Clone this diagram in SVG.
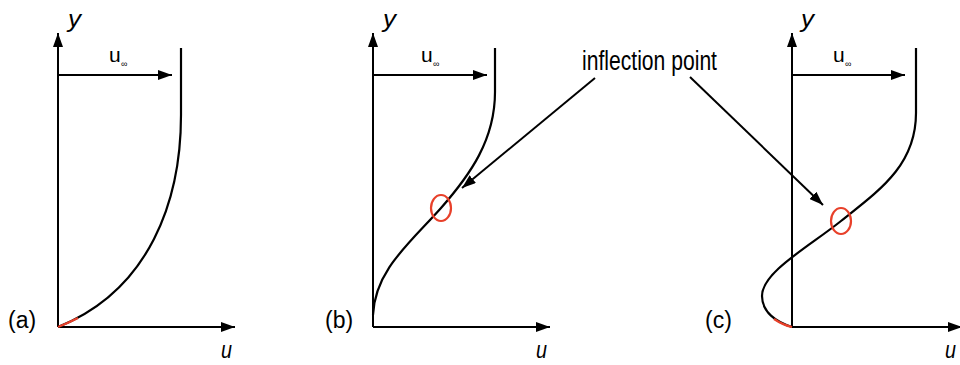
<svg xmlns="http://www.w3.org/2000/svg" width="960" height="365" viewBox="0 0 960 365">
<defs>
<marker id="ah" viewBox="0 0 14 10" refX="14" refY="5" markerWidth="14" markerHeight="10" markerUnits="userSpaceOnUse" orient="auto">
<path d="M0,0 L14,5 L0,10 Z" fill="#000"/>
</marker>
<style>
.ax{stroke:#000;stroke-width:2;fill:none}
.ar{stroke:#000;stroke-width:2;fill:none;marker-end:url(#ah)}
.cv{stroke:#000;stroke-width:2.2;fill:none}
.rd{stroke:#e8402a;stroke-width:2.2;fill:none}
.lb{font-family:"Liberation Sans",Arial,sans-serif;fill:#000}
.it{font-family:"Liberation Sans",Arial,sans-serif;font-style:italic;font-size:24px;fill:#000}
</style>
</defs>
<g id="panel-a">
<path class="ar" d="M58,327 L58,33"/>
<path class="ar" d="M58,327 L235,327"/>
<path class="ar" d="M58,75 L172,75"/>
<path class="cv" d="M181,48 L181,115 C181,200 150,290 58,327"/>
<path class="rd" d="M58,327 Q68,323 78,318"/>
<text class="it" x="68" y="27" textLength="13" lengthAdjust="spacingAndGlyphs">y</text>
<text class="it" x="221" y="358" textLength="11" lengthAdjust="spacingAndGlyphs">u</text>
<text class="lb" x="109" y="62" font-size="21">u</text>
<text class="lb" x="121" y="67" font-size="9">∞</text>
<text class="lb" x="8" y="328" font-size="23">(a)</text>
</g>
<g id="panel-b">
<path class="ar" d="M373,327 L373,33"/>
<path class="ar" d="M373,327 L550,327"/>
<path class="ar" d="M373,75 L487,75"/>
<path class="cv" d="M495,48 L495,92 C495,140 470,175 441,208 C410,243 375,270 373,315"/>
<ellipse cx="441" cy="208" rx="10" ry="13" class="rd"/>
<text class="it" x="383" y="27" textLength="13" lengthAdjust="spacingAndGlyphs">y</text>
<text class="it" x="536" y="358" textLength="11" lengthAdjust="spacingAndGlyphs">u</text>
<text class="lb" x="421" y="62" font-size="21">u</text>
<text class="lb" x="433" y="67" font-size="9">∞</text>
<text class="lb" x="325" y="328" font-size="23">(b)</text>
</g>
<g id="panel-c">
<path class="ar" d="M792,327 L792,33"/>
<path class="ar" d="M792,327 L962,327"/>
<path class="ar" d="M792,75 L905,75"/>
<path class="cv" d="M916,48 L916,113 C916,165 880,190 841,221 C810,246 762,272 762,296 C762,312 776,322 792,327"/>
<path class="rd" d="M774,319 Q783,325 792,327"/>
<ellipse cx="841" cy="221" rx="10" ry="13" class="rd"/>
<text class="it" x="801" y="27" textLength="13" lengthAdjust="spacingAndGlyphs">y</text>
<text class="it" x="945" y="358" textLength="11" lengthAdjust="spacingAndGlyphs">u</text>
<text class="lb" x="833" y="62" font-size="21">u</text>
<text class="lb" x="845" y="67" font-size="9">∞</text>
<text class="lb" x="705" y="328" font-size="23">(c)</text>
</g>
<g id="inflection-label">
<text class="lb" x="582" y="70" font-size="27" textLength="135" lengthAdjust="spacingAndGlyphs">inflection point</text>
</g>
<g id="connectors">
<path class="ar" d="M595,78 L462,188"/>
<path class="ar" d="M690,77 L823,205"/>
</g>
</svg>
